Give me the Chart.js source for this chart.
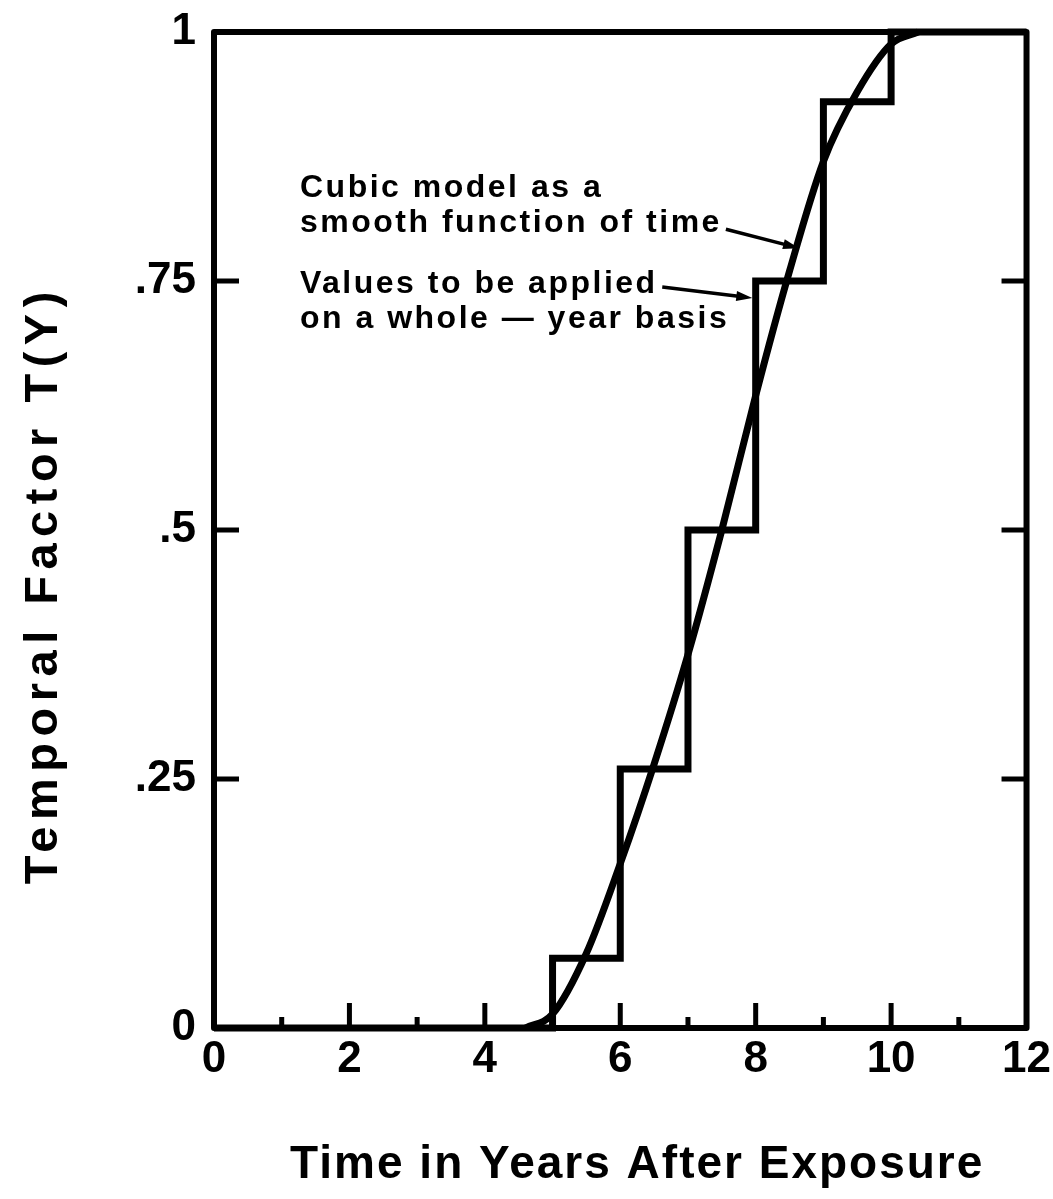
<!DOCTYPE html>
<html>
<head>
<meta charset="utf-8">
<title>Temporal Factor T(Y)</title>
<script src="https://cdn.jsdelivr.net/npm/chart.js@4.4.1/dist/chart.umd.min.js"></script>
<style>
    html, body { margin: 0; padding: 0; background: #fff; }
    #wrap { width: 1053px; height: 1199px; }
</style>
</head>
<body>
<div id="wrap"><canvas id="chart" width="1053" height="1199"></canvas></div>
<script>
// Whole-year step values (value holds from each year up to the next one)
const stepYears = [0, 1, 2, 3, 4, 5, 6, 7, 8, 9, 10, 11, 12];
const stepValues = [0, 0, 0, 0, 0, 0.07, 0.26, 0.5, 0.75, 0.93, 1, 1, 1];

// Cubic model
const curveYears = [4.6, 5.0, 5.5, 6.0, 6.5, 7.0, 7.5, 8.0, 8.5, 9.0, 9.5, 10.0, 10.4];
const curveValues = [0, 0.014, 0.075, 0.165, 0.265, 0.375, 0.5, 0.635, 0.76, 0.87, 0.94, 0.988, 1];

const xTickValues = [0, 2, 4, 6, 8, 10, 12];
const xTickLabels = ['0', '2', '4', '6', '8', '10', '12'];
const yTickValues = [0, 0.25, 0.5, 0.75, 1];
const yTickLabels = ['0', '.25', '.5', '.75', '1'];

const FONT = "'Liberation Sans', Arial, Helvetica, sans-serif";

const toPoints = (xs, ys) => xs.map((x, i) => ({ x, y: ys[i] }));

// frame, inward tick marks, axis titles and the two call-outs
const framePlugin = {
    id: 'frame',
    afterDatasetsDraw(chart, args, opts) {
        const { ctx, chartArea: a, scales: { x, y } } = chart;
        ctx.save();
        ctx.strokeStyle = '#000';
        ctx.fillStyle = '#000';
        ctx.lineJoin = 'round';
        ctx.lineWidth = 6;
        ctx.strokeRect(a.left, a.top, a.right - a.left, a.bottom - a.top);

        ctx.lineWidth = 5;
        ctx.beginPath();
        for (let v = 1; v < 12; v++) {
            const px = x.getPixelForValue(v);
            const len = v % 2 === 0 ? 25 : 11;
            ctx.moveTo(px, a.bottom);
            ctx.lineTo(px, a.bottom - len);
        }
        yTickValues.slice(1, -1).forEach(v => {
            const py = y.getPixelForValue(v);
            ctx.moveTo(a.left, py); ctx.lineTo(a.left + 25, py);
            ctx.moveTo(a.right, py); ctx.lineTo(a.right - 25, py);
        });
        ctx.stroke();

        // axis titles
        ctx.font = `bold 46px ${FONT}`;
        ctx.letterSpacing = '2px';
        ctx.textAlign = 'center';
        ctx.textBaseline = 'alphabetic';
        ctx.fillText(opts.xTitle, x.getPixelForValue(opts.xTitleAt), 1178);

        ctx.save();
        ctx.font = `bold 47px ${FONT}`;
        ctx.letterSpacing = '6.5px';
        ctx.translate(57, y.getPixelForValue(opts.yTitleAt));
        ctx.rotate(-Math.PI / 2);
        ctx.fillText(opts.yTitle, 0, 0);
        ctx.restore();

        // call-out text
        ctx.font = `bold 32px ${FONT}`;
        ctx.letterSpacing = '2.5px';
        ctx.textAlign = 'left';
        opts.notes.forEach(n => {
            ctx.fillText(n.text, x.getPixelForValue(n.x), y.getPixelForValue(n.y));
        });
        ctx.letterSpacing = '0px';

        // arrows
        opts.arrows.forEach(ar => {
            const x0 = x.getPixelForValue(ar.from[0]), y0 = y.getPixelForValue(ar.from[1]);
            const x1 = x.getPixelForValue(ar.to[0]), y1 = y.getPixelForValue(ar.to[1]);
            const ang = Math.atan2(y1 - y0, x1 - x0);
            ctx.lineWidth = 3.5;
            ctx.beginPath();
            ctx.moveTo(x0, y0);
            ctx.lineTo(x1 - 12 * Math.cos(ang), y1 - 12 * Math.sin(ang));
            ctx.stroke();
            ctx.beginPath();
            ctx.moveTo(x1, y1);
            ctx.lineTo(x1 - 16 * Math.cos(ang) + 5 * Math.sin(ang), y1 - 16 * Math.sin(ang) - 5 * Math.cos(ang));
            ctx.lineTo(x1 - 16 * Math.cos(ang) - 5 * Math.sin(ang), y1 - 16 * Math.sin(ang) + 5 * Math.cos(ang));
            ctx.closePath();
            ctx.fill();
        });
        ctx.restore();
    },
};

const data = {
    datasets: [
        {
            label: 'Values to be applied on a whole-year basis',
            data: toPoints(stepYears, stepValues),
            stepped: 'before',
            borderColor: '#000',
            borderWidth: 7,
            pointRadius: 0,
            borderJoinStyle: 'miter',
            clip: 6,
        },
        {
            label: 'Cubic model as a smooth function of time',
            data: toPoints(curveYears, curveValues),
            cubicInterpolationMode: 'monotone',
            borderColor: '#000',
            borderWidth: 7,
            pointRadius: 0,
            clip: 6,
        },
    ],
};

const options = {
    responsive: false,
    animation: false,
    devicePixelRatio: 1,
    layout: { padding: 0 },
    plugins: {
        legend: { display: false },
        tooltip: { enabled: false },
        frame: {
            xTitle: 'Time in Years After Exposure',
            xTitleAt: 6.25,
            yTitle: 'Temporal Factor T(Y)',
            yTitleAt: 0.445,
            notes: [
                { text: 'Cubic model as a', x: 1.27, y: 0.834 },
                { text: 'smooth function of time', x: 1.27, y: 0.799 },
                { text: 'Values to be applied', x: 1.27, y: 0.738 },
                { text: 'on a whole \u2014 year basis', x: 1.27, y: 0.703 },
            ],
            arrows: [
                { from: [7.56, 0.802], to: [8.64, 0.783] },
                { from: [6.62, 0.744], to: [7.95, 0.733] },
            ],
        },
    },
    scales: {
        x: {
            type: 'linear',
            min: 0,
            max: 12,
            grid: { display: false },
            border: { display: false },
            ticks: {
                stepSize: 1,
                autoSkip: false,
                maxRotation: 0,
                padding: 2,
                color: '#000',
                font: { family: FONT, size: 44, weight: 'bold', lineHeight: 1 },
                callback: v => {
                    const i = xTickValues.indexOf(v);
                    return i >= 0 ? xTickLabels[i] : '';
                },
            },
            afterFit: s => { s.height = 171; },
        },
        y: {
            type: 'linear',
            min: 0,
            max: 1,
            grid: { display: false },
            border: { display: false },
            ticks: {
                stepSize: 0.25,
                padding: 10,
                color: '#000',
                font: { family: FONT, size: 44, weight: 'bold', lineHeight: 1 },
                callback: v => {
                    const i = yTickValues.indexOf(v);
                    return i >= 0 ? yTickLabels[i] : '';
                },
            },
            afterFit: s => { s.width = 214; },
        },
    },
};

new Chart(document.querySelector('#chart'), { type: 'line', data, options, plugins: [framePlugin] });
</script>
</body>
</html>
